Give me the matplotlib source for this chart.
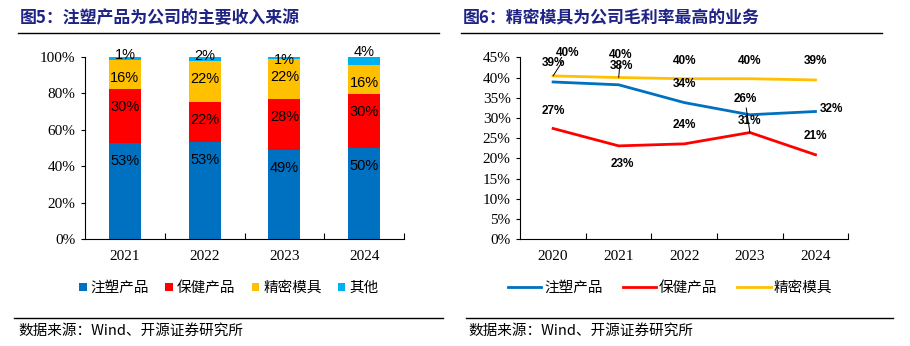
import numpy as np
import matplotlib
matplotlib.use('Agg')
import matplotlib.pyplot as plt
from matplotlib.patches import Patch
from matplotlib.lines import Line2D

plt.rcParams['font.family'] = ['Liberation Serif', 'Noto Sans CJK SC']
CJK = ['Noto Sans CJK SC', 'DejaVu Sans']

# Data: left chart (revenue share, %)
bar_years = ['2021', '2022', '2023', '2024']
bar_series = ['注塑产品', '保健产品', '精密模具', '其他']
share_injection = [52.8, 53.4, 49.1, 50.2]
share_health = [29.6, 21.9, 27.8, 29.6]
share_mould = [16.2, 22.4, 22.2, 15.8]
share_other = [1.4, 2.3, 0.9, 4.4]

# Data: right chart (gross margin, %)
line_years = ['2020', '2021', '2022', '2023', '2024']
margin_injection = [38.9, 38.2, 33.8, 30.8, 31.6]
margin_health = [27.4, 23.1, 23.6, 26.4, 20.9]
margin_mould = [40.4, 40.0, 39.7, 39.7, 39.4]

colors = ['#0070C0', '#FF0000', '#FFC000', '#00B0F0']
W, H = 910, 346

fig = plt.figure(figsize=(W / 100, H / 100), dpi=100)


def px_axes(l, t, r, b):
    return fig.add_axes([l / W, 1 - b / H, (r - l) / W, (b - t) / H])


def style_axes(ax):
    for s in ['top', 'right']:
        ax.spines[s].set_visible(False)
    for s in ['left', 'bottom']:
        ax.spines[s].set_linewidth(0.8)
        ax.spines[s].set_color('black')
    ax.tick_params(axis='y', direction='out', length=3, width=0.8, pad=4, labelsize=11)
    ax.tick_params(axis='x', which='major', length=0, pad=8, labelsize=11)
    ax.tick_params(axis='x', which='minor', direction='in', length=4, width=0.8)


# ---------- left: stacked bars ----------
ax1 = px_axes(85, 57, 404, 239)
data = [share_injection, share_health, share_mould, share_other]
x = np.arange(len(bar_years))
bottom = np.zeros(len(bar_years))
other_dy = [1.0, 0.6, -1.5, 2.6]
for i, vals in enumerate(data):
    vals = np.array(vals)
    ax1.bar(x, vals, 0.4, bottom=bottom, color=colors[i], label=bar_series[i])
    top = bottom + vals
    for j in range(len(x)):
        if i < 3:
            ty = top[j] - 10
        else:
            ty = 100 + other_dy[j]
        ax1.text(x[j], ty, f'{round(vals[j]):d}%', ha='center', va='center',
                 fontsize=10.5, family='Liberation Sans', color='black')
    bottom = top
ax1.set_xlim(-0.5, 3.5)
ax1.set_ylim(0, 100)
ax1.set_yticks(np.arange(0, 101, 20))
ax1.set_yticklabels([f'{v}%' for v in range(0, 101, 20)])
ax1.set_xticks(x)
ax1.set_xticklabels(bar_years)
ax1.set_xticks(np.arange(0.5, 4, 1), minor=True)
style_axes(ax1)

# ---------- right: lines ----------
ax2 = px_axes(520.3, 57.3, 848.3, 239.3)
xl = np.arange(len(line_years))
ax2.plot(xl, margin_injection, color=colors[0], lw=2)
ax2.plot(xl, margin_health, color=colors[1], lw=2)
ax2.plot(xl, margin_mould, color=colors[2], lw=2)
ax2.set_xlim(-0.5, 4.5)
ax2.set_ylim(0, 45)
ax2.set_yticks(np.arange(0, 46, 5))
ax2.set_yticklabels([f'{v}%' for v in range(0, 46, 5)])
ax2.set_xticks(xl)
ax2.set_xticklabels(line_years)
ax2.set_xticks(np.arange(0.5, 5, 1), minor=True)
style_axes(ax2)

# label offsets in pixels (dx right, dy up), leader line flag
offs_mould = [(15, 23.4, True), (2, 22.7, True), (0, 17.7, False), (0, 17.7, False), (0, 19, False)]
offs_inj = [(0, 18.7, False), (3, 19, False), (0, 18.7, False), (0, -6.6, False), (16, 2.4, False)]
offs_health = [(0, 17.4, False), (3.6, -18, False), (0, 18.7, False), (-5, 33.4, True), (0, 18.7, False)]
for series, offs in [(margin_mould, offs_mould), (margin_injection, offs_inj), (margin_health, offs_health)]:
    for j, v in enumerate(series):
        dx, dy, lead = offs[j]
        kw = {}
        if lead:
            kw['arrowprops'] = dict(arrowstyle='-', color='black', lw=0.7, shrinkA=0, shrinkB=0)
        ax2.annotate(f'{round(v):d}%', xy=(j, v), xytext=(dx * 0.72, dy * 0.72),
                     textcoords='offset points', ha='center', va='center',
                     fontsize=8.5, fontweight='bold', family='Liberation Sans', **kw)

# ---------- legends ----------
h1 = [Patch(facecolor=c, edgecolor='none') for c in colors]
fig.legend(h1, bar_series, loc='center', bbox_to_anchor=(229 / W, 1 - 288 / H), ncol=4,
           frameon=False, prop={'family': CJK, 'size': 10.5}, handlelength=0.5, handleheight=0.5,
           handletextpad=0.3, columnspacing=1.1)
h2 = [Line2D([], [], color=c, lw=2) for c in colors[:3]]
fig.legend(h2, bar_series[:3], loc='center', bbox_to_anchor=(670 / W, 1 - 288 / H), ncol=3,
           frameon=False, prop={'family': CJK, 'size': 10.5}, handlelength=2.3,
           handletextpad=0.2, columnspacing=1.35)

# ---------- titles, rules, sources ----------
navy = '#1F2383'
fig.text(20 / W, 1 - 18 / H, '图5：注塑产品为公司的主要收入来源', family=CJK, fontsize=12.2,
         fontweight='bold', color=navy, ha='left', va='center')
fig.text(463 / W, 1 - 18 / H, '图6：精密模具为公司毛利率最高的业务', family=CJK, fontsize=12.2,
         fontweight='bold', color=navy, ha='left', va='center')
for (x0, x1, y) in [(18, 439, 33), (461, 882, 33), (14, 443, 318), (466, 893, 318)]:
    fig.add_artist(Line2D([x0 / W, x1 / W], [1 - y / H, 1 - y / H], color='black', lw=1))
fig.text(18 / W, 1 - 331 / H, '数据来源：Wind、开源证券研究所', family=CJK, fontsize=10.5,
         ha='left', va='center')
fig.text(468 / W, 1 - 331 / H, '数据来源：Wind、开源证券研究所', family=CJK, fontsize=10.5,
         ha='left', va='center')

fig.savefig('out.png', dpi=100)
